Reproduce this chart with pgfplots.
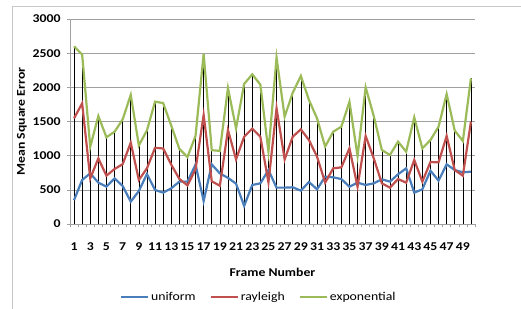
\documentclass[border=0pt]{standalone}
\usepackage{fontspec}
\setmainfont{Carlito}[FakeStretch=1.15]
\usepackage{pgfplots}
\pgfplotsset{compat=1.18}
\definecolor{cuni}{RGB}{74,126,187}
\definecolor{cray}{RGB}{192,80,77}
\definecolor{cexp}{RGB}{155,187,89}
\definecolor{cgrid}{RGB}{160,160,160}
\begin{document}
\begin{tikzpicture}
\path[use as bounding box] (0,0) rectangle (521bp,309bp);
\draw[color={rgb,255:red,200;green,200;blue,200}, line width=0.8bp] (12bp,0) -- (12bp,303bp) -- (521bp,303bp);
\begin{axis}[
  at={(70bp,85bp)}, anchor=south west,
  scale only axis, width=405bp, height=205bp,
  xmin=0.5, xmax=50.5, ymin=0, ymax=3000,
  axis x line*=bottom, axis y line*=left,
  axis line style={cgrid, line width=0.6bp},
  xtick={1,3,...,49},
  minor xtick={0.5,1.5,...,50.5},
  ytick={0,500,...,3000},
  ymajorgrids, grid style={cgrid, line width=0.6bp},
  tick align=outside,
  major tick length=3bp, minor tick length=3bp,
  x tick style={draw=none},
  minor x tick style={draw=cgrid, line width=0.6bp},
  y tick style={cgrid, line width=0.6bp},
  tick label style={font=\bfseries\fontsize{12}{14}\selectfont},
  /pgf/number format/assume math mode=true,
  /pgf/number format/1000 sep={},
  xticklabel style={yshift=-12bp, inner xsep=0pt},
  yticklabel style={xshift=-3bp},
  xlabel={\bfseries Frame Number},
  ylabel={\bfseries Mean Square Error},
  label style={font=\bfseries\fontsize{12}{14}\selectfont},
  xlabel style={at={(axis description cs:0.5,-0.234)}, anchor=center},
  ylabel style={at={(axis description cs:-0.119,0.5)}, anchor=center},
  legend style={draw=none, fill=none, at={(0.466,-0.356)}, anchor=center,
    legend columns=-1, font=\fontsize{12}{14}\selectfont,
    /tikz/every even column/.append style={column sep=12bp},
    legend cell align=left, inner sep=0pt},
  legend image code/.code={\draw[#1] (0bp,0bp) -- (27bp,0bp);},
  clip=false,
]
\addplot[ycomb, black, line width=0.6bp, forget plot] table {
x y
1 2600
2 2480
3 1130
4 1580
5 1270
6 1350
7 1530
8 1890
9 1150
10 1370
11 1790
12 1770
13 1440
14 1100
15 980
16 1290
17 2490
18 1080
19 1070
20 1990
21 1400
22 2050
23 2190
24 2040
25 1060
26 2434
27 1570
28 1922
29 2166
30 1815
31 1546
32 1132
33 1351
34 1424
35 1790
36 995
37 2000
38 1580
39 1083
40 1010
41 1205
42 1058
43 1561
44 1107
45 1229
46 1424
47 1902
48 1366
49 1215
50 2132
};
\addplot[cuni, line width=2.2bp] table {
x y
1 350
2 644
3 741
4 605
5 546
6 668
7 556
8 327
9 483
10 732
11 498
12 459
13 522
14 620
15 620
16 870
17 335
18 872
19 741
20 675
21 590
22 265
23 571
24 595
25 790
26 532
27 532
28 537
29 488
30 615
31 507
32 693
33 683
34 658
35 546
36 605
37 571
38 595
39 654
40 620
41 727
42 815
43 459
44 507
45 780
46 634
47 873
48 790
49 756
50 766
};
\addplot[cray, line width=2.2bp] table {
x y
1 1546
2 1766
3 668
4 961
5 707
6 805
7 875
8 1190
9 644
10 815
11 1115
12 1105
13 868
14 660
15 565
16 800
17 1595
18 625
19 560
20 1376
21 946
22 1278
23 1395
24 1278
25 610
26 1693
27 946
28 1278
29 1385
30 1229
31 985
32 605
33 815
34 829
35 1107
36 546
37 1288
38 961
39 595
40 532
41 658
42 605
43 937
44 620
45 907
46 902
47 1288
48 790
49 707
50 1498
};
\addplot[cexp, line width=2.2bp] table {
x y
1 2600
2 2480
3 1130
4 1580
5 1270
6 1350
7 1530
8 1890
9 1150
10 1370
11 1790
12 1770
13 1440
14 1100
15 980
16 1290
17 2490
18 1080
19 1070
20 1990
21 1400
22 2050
23 2190
24 2040
25 1060
26 2434
27 1570
28 1922
29 2166
30 1815
31 1546
32 1132
33 1351
34 1424
35 1790
36 995
37 2000
38 1580
39 1083
40 1010
41 1205
42 1058
43 1561
44 1107
45 1229
46 1424
47 1902
48 1366
49 1215
50 2132
};
\legend{uniform, rayleigh, exponential}
\end{axis}
\end{tikzpicture}
\end{document}
